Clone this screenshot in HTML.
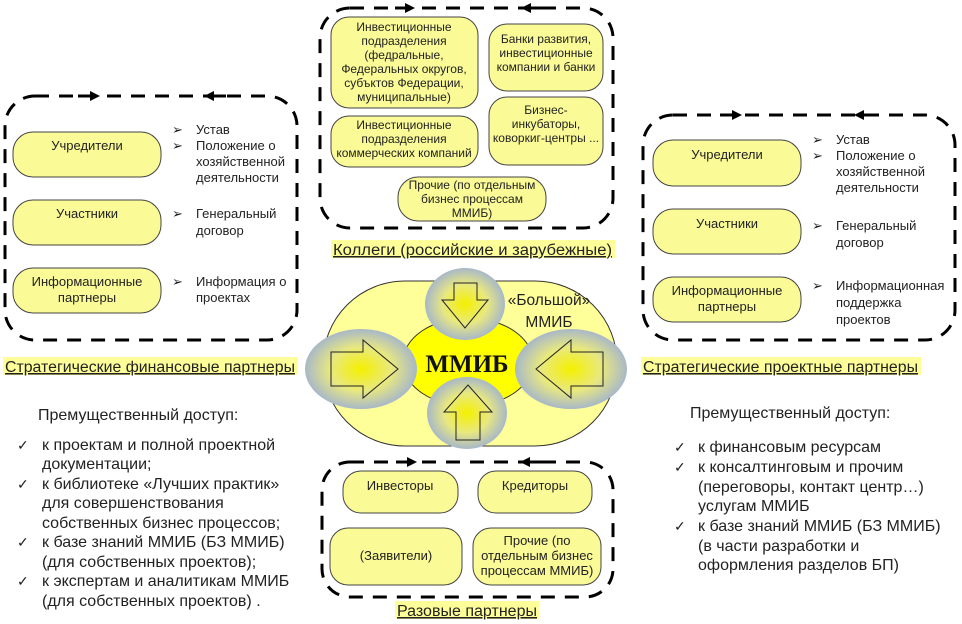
<!DOCTYPE html>
<html><head><meta charset="utf-8"><style>
html,body{margin:0;padding:0;background:#fff}
svg{display:block}
text{font-family:"Liberation Sans",Arial,sans-serif;fill:#222}
.p{font-size:13px}
.t{font-size:12px}
.s{font-size:13px}
.l{font-size:16px}
.h{font-size:15.5px;text-decoration:underline}
.c{font-size:14px}
</style></head><body>
<svg width="962" height="624" viewBox="0 0 962 624" xmlns="http://www.w3.org/2000/svg">
<defs>
<radialGradient id="g" cx="50%" cy="50%" r="50%">
<stop offset="0" stop-color="#f5f000"/><stop offset="0.55" stop-color="#e8e880"/><stop offset="1" stop-color="#a8b8c8"/>
</radialGradient>
</defs>
<g fill="none" stroke="#000" stroke-width="3" stroke-dasharray="14,10">
<rect x="5" y="96" width="292" height="244" rx="30"/>
<rect x="643" y="115" width="312" height="225" rx="30"/>
<rect x="320" y="8" width="293" height="220" rx="30"/>
<rect x="322" y="462" width="291" height="135" rx="28"/>
</g>
<g stroke="#000" stroke-width="3" fill="#000">
<line x1="78" y1="96" x2="92" y2="96"/><path d="M90,91 L100,96 L90,101z" stroke="none"/>
<line x1="213" y1="96" x2="226" y2="96"/><path d="M214,91 L204,96 L214,101z" stroke="none"/>
<line x1="720" y1="115" x2="734" y2="115"/><path d="M732,110 L742,115 L732,120z" stroke="none"/>
<line x1="862" y1="115" x2="876" y2="115"/><path d="M864,110 L854,115 L864,120z" stroke="none"/>
<line x1="395" y1="8" x2="406" y2="8"/><path d="M405,3 L415,8 L405,13z" stroke="none"/>
<line x1="530" y1="8" x2="542" y2="8"/><path d="M531,3 L521,8 L531,13z" stroke="none"/>
<line x1="396" y1="462" x2="408" y2="462"/><path d="M407,457 L417,462 L407,467z" stroke="none"/>
<line x1="530" y1="462" x2="542" y2="462"/><path d="M530,457 L520,462 L530,467z" stroke="none"/>
</g>
<g fill="#fafa96" stroke="#444" stroke-width="1">
<rect x="13" y="132" width="148" height="45" rx="20"/>
<rect x="13" y="200" width="148" height="45" rx="20"/>
<rect x="13" y="268" width="148" height="45" rx="20"/>
<rect x="653" y="140" width="148" height="46" rx="20"/>
<rect x="653" y="209" width="148" height="45" rx="20"/>
<rect x="653" y="277" width="148" height="45" rx="20"/>
<rect x="331" y="17" width="147" height="91" rx="18"/>
<rect x="489" y="24" width="114" height="67" rx="18"/>
<rect x="331" y="116" width="147" height="51" rx="18"/>
<rect x="489" y="97" width="114" height="68" rx="18"/>
<rect x="398" y="177" width="148" height="44" rx="20"/>
<rect x="343" y="471" width="115" height="42" rx="18"/>
<rect x="478" y="471" width="114" height="42" rx="18"/>
<rect x="330" y="528" width="132" height="57" rx="18"/>
<rect x="473" y="528" width="128" height="57" rx="18"/>
</g>
<g class="p" text-anchor="middle">
<text x="87" y="150">Учредители</text>
<text x="87" y="218">Участники</text>
<text x="87" y="286">Информационные</text><text x="87" y="302">партнеры</text>
<text x="727" y="159">Учредители</text>
<text x="727" y="228">Участники</text>
<text x="727" y="295">Информационные</text><text x="727" y="311">партнеры</text>
<text x="400" y="490">Инвесторы</text>
<text x="535" y="490">Кредиторы</text>
<text x="396" y="560">(Заявители)</text>
<text x="537" y="545">Прочие (по</text><text x="537" y="560">отдельным бизнес</text><text x="537" y="575">процессам ММИБ)</text>
</g>
<g class="t" text-anchor="middle">
<text x="404" y="31">Инвестиционные</text><text x="404" y="45">подразделения</text><text x="404" y="59">(федральные,</text><text x="404" y="73">Федеральных округов,</text><text x="404" y="87">субъктов Федерации,</text><text x="404" y="101">муниципальные)</text>
<text x="546" y="43">Банки развития,</text><text x="546" y="57">инвестиционные</text><text x="546" y="71">компании и банки</text>
<text x="404" y="129">Инвестиционные</text><text x="404" y="143">подразделения</text><text x="404" y="157">коммерческих компаний</text>
<text x="546" y="114">Бизнес-</text><text x="546" y="128">инкубаторы,</text><text x="546" y="142">коворкиг-центры ...</text>
<text x="472" y="189">Прочие (по отдельным</text><text x="472" y="203">бизнес процессам</text><text x="472" y="217">ММИБ)</text>
</g>
<g class="s">
<text x="172" y="134">➢</text><text x="196" y="134">Устав</text>
<text x="172" y="150">➢</text><text x="196" y="150">Положение о</text><text x="196" y="166">хозяйственной</text><text x="196" y="182">деятельности</text>
<text x="172" y="218">➢</text><text x="196" y="218">Генеральный</text><text x="196" y="235">договор</text>
<text x="172" y="286">➢</text><text x="196" y="286">Информация о</text><text x="196" y="302">проектах</text>
<text x="812" y="144">➢</text><text x="836" y="144">Устав</text>
<text x="812" y="160">➢</text><text x="836" y="160">Положение о</text><text x="836" y="176">хозяйственной</text><text x="836" y="192">деятельности</text>
<text x="812" y="230">➢</text><text x="836" y="230">Генеральный</text><text x="836" y="247">договор</text>
<text x="812" y="290">➢</text><text x="836" y="290">Информационная</text><text x="836" y="307">поддержка</text><text x="836" y="324">проектов</text>
</g>
<rect x="3" y="357" width="295" height="18" fill="#ffff99"/>
<text class="h" x="5" y="372" textLength="290" lengthAdjust="spacingAndGlyphs">Стратегические финансовые партнеры</text>
<rect x="641" y="357" width="280" height="18" fill="#ffff99"/>
<text class="h" x="643" y="372" textLength="275" lengthAdjust="spacingAndGlyphs">Стратегические проектные партнеры</text>
<rect x="331" y="240" width="284" height="18" fill="#ffff99"/>
<text class="h" x="333" y="255" textLength="279" lengthAdjust="spacingAndGlyphs">Коллеги (российские и зарубежные)</text>
<rect x="395" y="601" width="144" height="18" fill="#ffff99"/>
<text class="h" x="397" y="616" textLength="140" lengthAdjust="spacingAndGlyphs">Разовые партнеры</text>
<rect x="323" y="281" width="294" height="165" rx="82" fill="#ffff99" stroke="#333"/>
<ellipse cx="468" cy="362" rx="65" ry="44" fill="#ffff00" stroke="#333"/>
<text x="549" y="305" text-anchor="middle" style="font-size:15.5px">«Большой»</text>
<text x="549" y="327" text-anchor="middle" style="font-size:15.5px">ММИБ</text>
<text x="467" y="372" text-anchor="middle" style="font-family:'Liberation Serif',serif;font-size:25px;font-weight:bold;fill:#111">ММИБ</text>
<ellipse cx="465" cy="304" rx="40" ry="36" fill="url(#g)"/>
<ellipse cx="361" cy="369" rx="56" ry="40" fill="url(#g)"/>
<ellipse cx="571" cy="369" rx="56" ry="40" fill="url(#g)"/>
<ellipse cx="467" cy="413" rx="40" ry="36" fill="url(#g)"/>
<g fill="none" stroke="#222" stroke-width="1">
<path d="M454,283 L477,283 L477,300 L488,300 L465,328 L442,300 L454,300z"/>
<path d="M331,352 L363,352 L363,340 L398,369 L363,398 L363,386 L331,386z"/>
<path d="M603,352 L571,352 L571,340 L536,369 L571,398 L571,386 L603,386z"/>
<path d="M456,440 L480,440 L480,412 L492,412 L468,385 L444,412 L456,412z"/>
</g>
<g class="l">
<text x="38" y="420">Премущественный доступ:</text>
<text x="17" y="450" class="c">✓</text><text x="42" y="450">к проектам и полной проектной</text>
<text x="42" y="469">документации;</text>
<text x="17" y="489" class="c">✓</text><text x="42" y="489">к библиотеке «Лучших практик»</text>
<text x="42" y="508">для совершенствования</text>
<text x="42" y="528">собственных бизнес процессов;</text>
<text x="17" y="547" class="c">✓</text><text x="42" y="547">к базе знаний ММИБ (БЗ ММИБ)</text>
<text x="42" y="567">(для собственных проектов);</text>
<text x="17" y="586" class="c">✓</text><text x="42" y="586">к экспертам и аналитикам ММИБ</text>
<text x="42" y="606">(для собственных проектов) .</text>
<text x="690" y="418">Премущественный доступ:</text>
<text x="674" y="452" class="c">✓</text><text x="698" y="452">к финансовым ресурсам</text>
<text x="674" y="472" class="c">✓</text><text x="698" y="472">к консалтинговым и прочим</text>
<text x="698" y="492">(переговоры, контакт центр…)</text>
<text x="698" y="511">услугам ММИБ</text>
<text x="674" y="531" class="c">✓</text><text x="698" y="531">к базе знаний ММИБ (БЗ ММИБ)</text>
<text x="698" y="551">(в части разработки и</text>
<text x="698" y="570">оформления разделов БП)</text>
</g>
</svg>
</body></html>
